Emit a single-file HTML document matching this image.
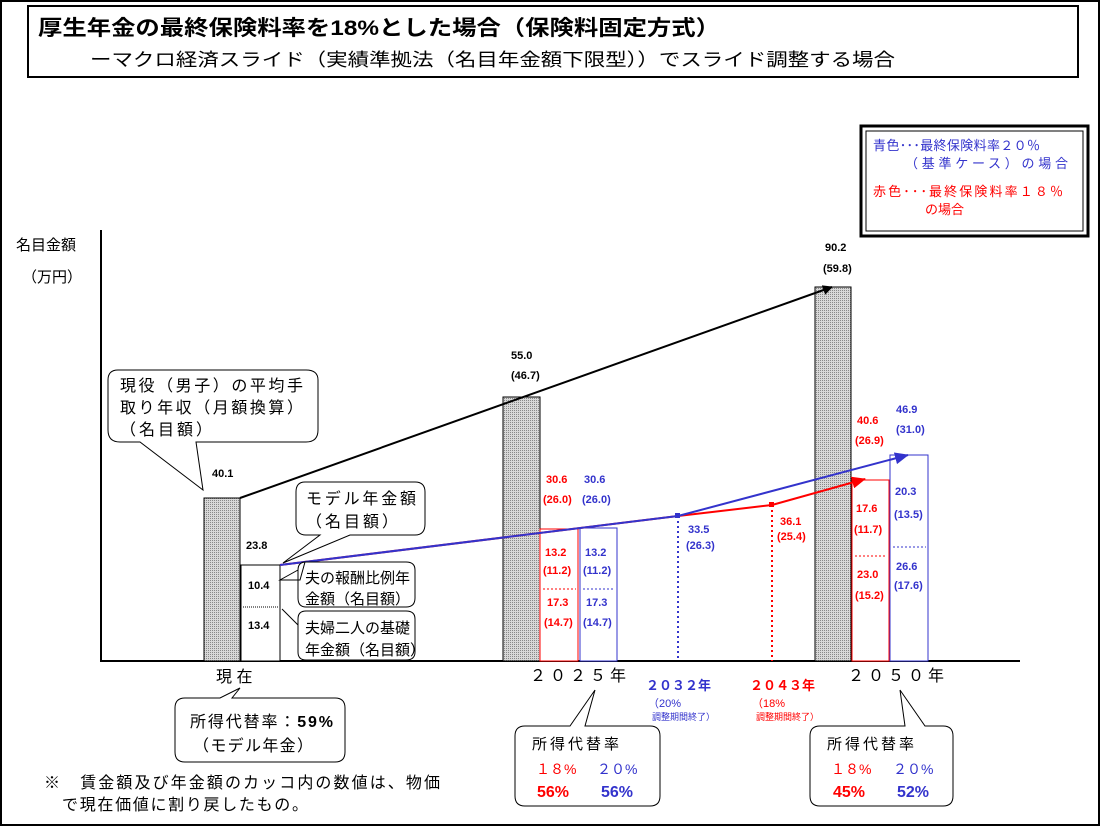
<!DOCTYPE html>
<html><head><meta charset="utf-8"><style>
body{margin:0;background:#fff}
svg{display:block;font-family:"Liberation Sans","Noto Sans CJK JP",sans-serif}
.b{font-weight:bold;font-size:11px}
</style></head><body>
<svg width="1101" height="827" viewBox="0 0 1101 827">
<defs>
<pattern id="g" width="2" height="2" patternUnits="userSpaceOnUse"><rect width="2" height="2" fill="#d8d8d8"/><rect width="1" height="1" fill="#888"/></pattern>
<marker id="ak" markerWidth="10" markerHeight="10" refX="9" refY="5" orient="auto" markerUnits="userSpaceOnUse"><path d="M0,0L10,5L0,10z" fill="#000"/></marker>
<marker id="ab" markerWidth="14" markerHeight="12" refX="13" refY="6" orient="auto" markerUnits="userSpaceOnUse"><path d="M0,0L14,6L0,12z" fill="#3333cc"/></marker>
<marker id="ar" markerWidth="14" markerHeight="12" refX="13" refY="6" orient="auto" markerUnits="userSpaceOnUse"><path d="M0,0L14,6L0,12z" fill="#f00"/></marker>
</defs>
<rect x="1" y="1" width="1098" height="824" fill="none" stroke="#000" stroke-width="2"/>
<rect x="28" y="6" width="1050" height="71" fill="none" stroke="#000" stroke-width="2"/>
<text x="38" y="35" font-size="21" font-weight="bold" textLength="682" lengthAdjust="spacingAndGlyphs">厚生年金の最終保険料率を18%とした場合（保険料固定方式）</text>
<text x="90" y="66" font-size="18" textLength="805" lengthAdjust="spacingAndGlyphs">ーマクロ経済スライド（実績準拠法（名目年金額下限型））でスライド調整する場合</text>
<!-- legend -->
<rect x="861" y="126" width="227" height="110" fill="none" stroke="#000" stroke-width="3"/>
<rect x="866" y="131" width="217" height="100" fill="none" stroke="#000" stroke-width="1"/>
<g font-size="13"><text x="873" y="150" fill="#3333cc" textLength="167">青色･･･最終保険料率２０％</text>
<text x="905" y="168" fill="#3333cc" textLength="163">（基準ケース）の場合</text>
<text x="873" y="196" fill="#f00" textLength="190">赤色･･･最終保険料率１８％</text>
<text x="925" y="214" fill="#f00">の場合</text></g>
<text x="16" y="250" font-size="15">名目金額</text>
<text x="22" y="282" font-size="15">（万円）</text>
<!-- axes -->
<line x1="101" y1="230" x2="101" y2="662" stroke="#000" stroke-width="2"/>
<line x1="100" y1="661" x2="1020" y2="661" stroke="#000" stroke-width="2"/>
<!-- bars -->
<rect x="204" y="498" width="36" height="163" fill="url(#g)" stroke="#000"/>
<rect x="241" y="565" width="39" height="96" fill="#fff" stroke="#000"/>
<line x1="243" y1="607" x2="278" y2="607" stroke="#000" stroke-dasharray="1,1"/>
<rect x="503" y="397" width="37" height="264" fill="url(#g)" stroke="#000"/>
<rect x="540" y="529" width="38" height="132" fill="#fff" stroke="#f00"/>
<rect x="580" y="528" width="37" height="133" fill="#fff" stroke="#3333cc"/>
<line x1="543" y1="589" x2="576" y2="589" stroke="#f00" stroke-dasharray="2,2"/>
<line x1="583" y1="589" x2="615" y2="589" stroke="#3333cc" stroke-dasharray="2,2"/>
<rect x="815" y="287" width="36" height="374" fill="url(#g)" stroke="#000"/>
<rect x="852" y="480" width="37" height="181" fill="#fff" stroke="#f00"/>
<rect x="890" y="455" width="38" height="206" fill="#fff" stroke="#3333cc"/>
<line x1="855" y1="556" x2="886" y2="556" stroke="#f00" stroke-dasharray="2,2"/>
<line x1="893" y1="547" x2="926" y2="547" stroke="#3333cc" stroke-dasharray="2,2"/>
<!-- lines -->
<line x1="240" y1="498" x2="832" y2="287" stroke="#000" stroke-width="2" marker-end="url(#ak)"/>
<line x1="678" y1="516" x2="678" y2="661" stroke="#3333cc" stroke-width="2" stroke-dasharray="2,3"/>
<line x1="772" y1="505" x2="772" y2="661" stroke="#f00" stroke-width="2" stroke-dasharray="2,3"/>
<polyline points="280,565 678,516 772,505 865,479" fill="none" stroke="#f00" stroke-width="2" marker-end="url(#ar)"/>
<polyline points="280,565 678,516 908,455" fill="none" stroke="#3333cc" stroke-width="2" marker-end="url(#ab)"/>
<rect x="675" y="513" width="5" height="5" fill="#3333cc"/>
<rect x="769" y="502" width="5" height="5" fill="#f00"/>
<!-- numbers -->
<g class="b">
<text x="212" y="477">40.1</text><text x="246" y="549">23.8</text>
<text x="248" y="589">10.4</text><text x="248" y="629">13.4</text>
<text x="511" y="359">55.0</text><text x="511" y="379">(46.7)</text>
<text x="825" y="251">90.2</text><text x="823" y="272">(59.8)</text>
<g fill="#f00"><text x="546" y="483">30.6</text><text x="543" y="503">(26.0)</text>
<text x="545" y="556">13.2</text><text x="543" y="574">(11.2)</text>
<text x="547" y="606">17.3</text><text x="544" y="626">(14.7)</text>
<text x="780" y="525">36.1</text><text x="777" y="540">(25.4)</text>
<text x="857" y="424">40.6</text><text x="855" y="444">(26.9)</text>
<text x="856" y="512">17.6</text><text x="854" y="533">(11.7)</text>
<text x="857" y="578">23.0</text><text x="855" y="599">(15.2)</text></g>
<g fill="#3333cc"><text x="584" y="483">30.6</text><text x="582" y="503">(26.0)</text>
<text x="585" y="556">13.2</text><text x="583" y="574">(11.2)</text>
<text x="586" y="606">17.3</text><text x="583" y="626">(14.7)</text>
<text x="688" y="533">33.5</text><text x="686" y="549">(26.3)</text>
<text x="896" y="413">46.9</text><text x="896" y="433">(31.0)</text>
<text x="895" y="495">20.3</text><text x="894" y="518">(13.5)</text>
<text x="896" y="570">26.6</text><text x="894" y="589">(17.6)</text></g>
</g>
<!-- callouts -->
<path d="M118,370 Q108,370 108,380 L108,430 Q108,442 120,442 L140,442 L203,490 L196,442 L306,442 Q318,442 318,430 L318,380 Q318,370 306,370 Z" fill="#fff" stroke="#000"/>
<g font-size="16"><text x="120" y="391" textLength="183">現役（男子）の平均手</text><text x="120" y="413" textLength="183">取り年収（月額換算）</text><text x="120" y="435" textLength="92">（名目額）</text></g>
<path d="M305,482 Q296,482 296,492 L296,524 Q296,535 306,535 L320,535 L283,563 L350,535 L415,535 Q425,535 425,524 L425,492 Q425,482 415,482 Z" fill="#fff" stroke="#000"/>
<g font-size="16"><text x="306" y="504" textLength="110">モデル年金額</text><text x="306" y="527" textLength="92">（名目額）</text></g>
<path d="M306,562 Q298,562 298,570 L298,598 Q298,607 306,607 L406,607 Q415,607 415,598 L415,570 Q415,562 406,562 L305,562 L300,580 L280,580 L298,570" fill="#fff" stroke="#000"/>
<g font-size="15"><text x="305" y="583">夫の報酬比例年</text><text x="305" y="604">金額（名目額）</text></g>
<path d="M306,611 Q298,611 298,619 L298,652 Q298,660 306,660 L406,660 Q415,660 415,652 L415,619 Q415,611 406,611 Z" fill="#fff" stroke="#000"/>
<line x1="282" y1="609" x2="298" y2="625" stroke="#000"/>
<g font-size="15"><text x="305" y="633">夫婦二人の基礎</text><text x="305" y="655">年金額（名目額）</text></g>
<!-- x labels -->
<text x="216" y="682" font-size="16">現 在</text>
<text x="530" y="681" font-size="16" letter-spacing="4">２０２５年</text>
<text x="848" y="681" font-size="16" letter-spacing="4">２０５０年</text>
<text x="646" y="690" font-size="13" font-weight="bold" fill="#3333cc">２０３２年</text>
<text x="648" y="707" font-size="11" fill="#3333cc">（20%</text>
<text x="652" y="720" font-size="9" fill="#3333cc">調整期間終了）</text>
<text x="750" y="690" font-size="13" font-weight="bold" fill="#f00">２０４３年</text>
<text x="752" y="707" font-size="11" fill="#f00">（18%</text>
<text x="756" y="720" font-size="9" fill="#f00">調整期間終了）</text>
<!-- bottom boxes -->
<path d="M185,698 L220,698 L240,688 L232,698 L335,698 Q345,698 345,708 L345,752 Q345,762 335,762 L185,762 Q175,762 175,752 L175,708 Q175,698 185,698Z" fill="#fff" stroke="#000"/>
<text x="190" y="727" font-size="16" textLength="143">所得代替率：<tspan font-weight="bold">59%</tspan></text>
<text x="193" y="751" font-size="16" textLength="120">（モデル年金）</text>
<path d="M525,726 L570,726 L595,690 L585,726 L650,726 Q660,726 660,736 L660,796 Q660,806 650,806 L525,806 Q515,806 515,796 L515,736 Q515,726 525,726Z" fill="#fff" stroke="#000"/>
<text x="532" y="749" font-size="15" letter-spacing="3">所得代替率</text>
<text x="536" y="774" font-size="14" fill="#f00">１８%</text><text x="597" y="774" font-size="14" fill="#3333cc">２０%</text>
<text x="537" y="797" font-size="16" font-weight="bold" fill="#f00">56%</text><text x="601" y="797" font-size="16" font-weight="bold" fill="#3333cc">56%</text>
<path d="M820,726 L905,726 L900,690 L925,726 L943,726 Q953,726 953,736 L953,796 Q953,806 943,806 L820,806 Q810,806 810,796 L810,736 Q810,726 820,726Z" fill="#fff" stroke="#000"/>
<text x="827" y="749" font-size="15" letter-spacing="3">所得代替率</text>
<text x="831" y="774" font-size="14" fill="#f00">１８%</text><text x="893" y="774" font-size="14" fill="#3333cc">２０%</text>
<text x="833" y="797" font-size="16" font-weight="bold" fill="#f00">45%</text><text x="897" y="797" font-size="16" font-weight="bold" fill="#3333cc">52%</text>
<text x="44" y="788" font-size="16" textLength="396">※　賃金額及び年金額のカッコ内の数値は、物価</text>
<text x="62" y="810" font-size="16" textLength="246">で現在価値に割り戻したもの。</text>
</svg>
</body></html>
